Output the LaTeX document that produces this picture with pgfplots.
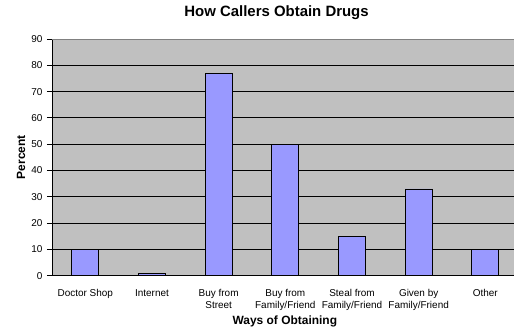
\documentclass[border=0pt]{standalone}
\usepackage{fontspec}
\setmainfont{Liberation Sans}
\usepackage{pgfplots}
\pgfplotsset{compat=1.18}

\definecolor{plotgray}{HTML}{C0C0C0}
\definecolor{barblue}{HTML}{9999FF}
\definecolor{framegray}{HTML}{808080}

\begin{document}
\begin{tikzpicture}
\begin{axis}[
  scale only axis,
  width=462bp, height=236.7bp,
  xmin=-0.5, xmax=6.43,
  ymin=0, ymax=90,
  ytick={0,10,...,90},
  xtick={0,...,6},
  xticklabels={Doctor Shop, Internet, {Buy from\\Street}, {Buy from\\Family/Friend},
               {Steal from\\Family/Friend}, {Given by\\Family/Friend}, Other},
  x tick style={draw=none},
  extra x ticks={-0.5,0.5,...,5.5},
  extra x tick labels={},
  extra x tick style={tick style={draw=black, line width=0.8pt}, major tick length=5bp},
  tick align=outside,
  major tick length=5bp,
  y tick style={draw=black, line width=0.8pt},
  axis x line*=bottom, axis y line*=left,
  axis line style={-, draw=black, line width=0.8pt},
  axis background/.style={fill=plotgray},
  ymajorgrids,
  grid style={draw=black, line width=0.8pt},
  /pgf/number format/assume math mode=true,
  tick label style={font=\fontsize{10}{12}\selectfont},
  xticklabel style={align=center, anchor=north, yshift=-5bp},
  yticklabel style={anchor=east, xshift=-1bp},
  ybar, bar width=27bp,
  title={How Callers Obtain Drugs},
  title style={font=\bfseries\fontsize{15}{17}\selectfont,
               at={(axis description cs:0.486,1)}, anchor=base, yshift=17bp},
  xlabel={Ways of Obtaining},
  xlabel style={font=\bfseries\fontsize{12}{14}\selectfont,
                at={(axis description cs:0.504,0)}, anchor=base, yshift=-49.3bp},
  ylabel={Percent},
  ylabel style={font=\bfseries\fontsize{12}{14}\selectfont,
                at={(axis description cs:-0.0584,0.5)}, anchor=base},
  clip=false,
]
\addplot[fill=barblue, draw=black, line width=0.8pt] coordinates {
  (0,10) (1,1) (2,77) (3,50) (4,15) (5,33) (6,10)
};
% plot-area frame along the top edge
\draw[framegray, line width=0.8pt] (rel axis cs:0,1) -- (rel axis cs:1,1);
\end{axis}
\pgfresetboundingbox
\useasboundingbox ([xshift=-52bp, yshift=-55.3bp]current axis.south west)
  rectangle ([yshift=39bp]current axis.north east);
\end{tikzpicture}
\end{document}
